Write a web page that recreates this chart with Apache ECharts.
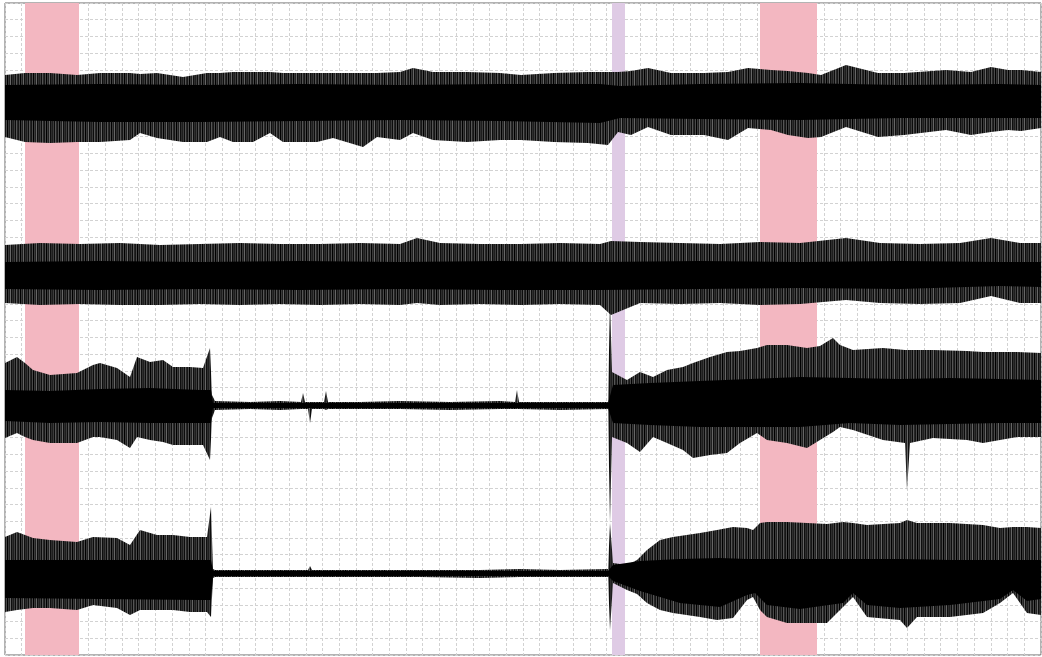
<!DOCTYPE html>
<html>
<head>
<meta charset="utf-8">
<title>EEG channels</title>
<script src="https://cdn.jsdelivr.net/npm/echarts@6/dist/echarts.min.js"></script>
<style>
html, body { margin: 0; padding: 0; background: #fff; }
#chart { width: 1042px; height: 657px; }
</style>
</head>
<body>
<div id="chart"></div>
<script>
// time in samples, amplitude in uV, each channel drawn around its own offset
var timeRange = [0, 1036];
var ampRange = [0, 652];
var channelOffset = [550, 382, 250, 82];

// marked periods [start, end, kind]
var bands = [[20, 74, 'event'], [607, 620, 'marker'], [755, 812, 'event']];

// envelopes [t, max, min] relative to the channel offset
var ch1Outer = [[0,30,-32],[20,32,-37],[45,32,-38],[72,30,-37],[95,32,-37],[125,32,-35],[135,31,-28],[152,32,-33],
  [178,28,-37],[202,32,-37],[215,32,-32],[228,33,-37],[248,33,-37],[265,33,-28],[278,32,-37],[312,32,-37],
  [328,32,-33],[358,32,-42],[372,32,-32],[395,33,-35],[408,37,-28],[428,33,-35],[462,33,-37],[495,32,-35],
  [516,30,-35],[549,32,-37],[583,33,-38],[603,33,-40],[613,33,-27],[626,34,-30],[643,37,-22],[666,32,-30],
  [699,32,-30],[723,33,-35],[743,37,-23],[766,35,-25],[783,34,-30],[803,32,-33],[816,30,-32],[841,40,-22],
  [873,32,-32],[899,32,-30],[941,35,-25],[966,33,-30],[986,38,-27],[1003,35,-25],[1016,35,-26],[1036,33,-23]];
var ch1Core = [[0,20,-15],[95,21,-17],[195,20,-17],[295,21,-16],[395,20,-15],[495,21,-16],[595,21,-18],
  [615,19,-13],[695,21,-14],[795,22,-15],[895,20,-13],[995,21,-13],[1036,20,-13]];

var ch2Outer = [[0,28,-30],[35,30,-32],[75,29,-31],[115,30,-32],[155,28,-32],[195,29,-31],[235,30,-32],[275,29,-31],
  [315,29,-32],[355,30,-31],[395,29,-32],[412,35,-30],[435,30,-32],[475,29,-31],[516,29,-32],[555,30,-31],
  [595,29,-32],[606,32,-42],[635,31,-30],[675,30,-31],[715,29,-30],[755,31,-32],[795,30,-31],[841,35,-27],
  [875,30,-30],[915,29,-31],[955,30,-30],[986,35,-23],[1015,30,-30],[1036,30,-30]];
var ch2Core = [[0,11,-16],[95,12,-17],[195,11,-16],[295,12,-17],[395,11,-16],[495,12,-17],[595,11,-17],
  [695,12,-16],[795,11,-15],[895,12,-16],[995,11,-13],[1036,11,-14]];

var ch3Outer = [[0,42,-33],[12,48,-28],[20,42,-32],[28,35,-35],[45,30,-38],[72,32,-38],[88,40,-32],[95,42,-32],
  [112,37,-35],[125,28,-43],[132,48,-32],[145,43,-35],[158,45,-37],[168,38,-40],[185,38,-40],[198,37,-40],
  [205,57,-55],[207,10,-13],[210,4,-5],[245,3,-4],[275,4,-5],[296,3,-4],[298,12,-4],[300,3,-4],[303,3,-4],
  [305,3,-18],[307,3,-4],[319,3,-4],[321,14,-5],[323,3,-4],[355,3,-4],[395,4,-4],[445,3,-5],[495,4,-4],
  [510,3,-4],[512,15,-4],[514,3,-4],[555,3,-5],[603,3,-4],[605,105,-118],[607,33,-32],[622,25,-38],
  [635,33,-47],[648,28,-32],[662,35,-38],[678,38,-45],[688,42,-53],[705,48,-50],[722,53,-48],[735,54,-38],
  [752,57,-28],[762,60,-35],[782,60,-38],[802,57,-43],[815,59,-35],[828,67,-27],[835,60,-22],[848,55,-25],
  [878,57,-35],[900,55,-38],[902,55,-85],[905,55,-38],[928,55,-33],[962,54,-35],[978,53,-38],[1012,53,-32],
  [1036,52,-32]];
var ch3Core = [[0,15,-16],[45,14,-18],[95,16,-17],[145,17,-18],[195,15,-18],[206,15,-18],[208,2,-3],[603,2,-3],
  [608,20,-18],[645,22,-20],[695,24,-22],[745,26,-22],[795,28,-22],[845,27,-18],[895,26,-20],[945,27,-19],
  [995,26,-18],[1036,25,-18]];

var ch4Outer = [[0,36,-39],[12,41,-37],[28,35,-35],[45,33,-35],[72,31,-37],[88,36,-32],[112,35,-35],[125,28,-42],
  [135,43,-37],[152,38,-37],[168,38,-37],[185,36,-39],[202,36,-39],[206,66,-44],[208,4,-5],[210,3,-4],
  [255,3,-4],[303,3,-4],[305,7,-4],[307,3,-4],[355,3,-4],[415,3,-4],[475,3,-5],[515,4,-4],[555,3,-4],
  [603,4,-4],[605,50,-57],[608,10,-10],[622,8,-17],[632,13,-21],[642,23,-30],[655,33,-37],[668,36,-40],
  [695,40,-44],[712,43,-47],[728,46,-45],[742,45,-27],[748,43,-24],[755,50,-37],[762,51,-44],[782,51,-50],
  [802,50,-50],[822,49,-50],[838,51,-34],[848,50,-24],[862,48,-44],[895,50,-47],[902,53,-55],[912,50,-44],
  [945,50,-44],[978,48,-40],[995,45,-30],[1008,46,-20],[1022,46,-40],[1036,45,-42]];
var ch4Core = [[0,13,-25],[95,13,-26],[195,13,-27],[206,13,-27],[208,2,-3],[603,2,-3],[608,8,-8],[635,12,-18],
  [675,14,-30],[715,15,-34],[742,14,-22],[750,14,-20],[762,14,-32],[795,14,-36],[838,14,-30],[848,14,-20],
  [862,14,-32],[895,14,-35],[945,13,-32],[995,13,-26],[1008,13,-17],[1022,13,-28],[1036,13,-26]];

var bandColor = { event: '#f3b7c1', marker: '#dfcbe5' };
// grey shades of the sweep strokes in the outer part of a trace
var strokeShades = ['#1e1e1e', '#3c3c3c', '#0c0c0c', '#555', '#262626', '#161616', '#4a4a4a', '#000',
  '#3a3a3a', '#202020', '#666', '#0e0e0e', '#2e2e2e'];

var strokes = document.createElement('canvas');
strokes.width = strokeShades.length;
strokes.height = 4;
var sctx = strokes.getContext('2d');
strokeShades.forEach(function (c, i) {
	sctx.fillStyle = c;
	sctx.fillRect(i, 0, 1, 4);
});

function envelope(name, rows, offset, fill, z) {
	return {
		type: 'custom',
		name: name,
		z: z,
		silent: true,
		data: [rows[0]],
		renderItem: function (params, api) {
			var upper = rows.map(function (r) { return api.coord([r[0], offset + r[1]]); });
			var lower = rows.slice().reverse().map(function (r) { return api.coord([r[0], offset + r[2]]); });
			return {
				type: 'polygon',
				shape: { points: upper.concat(lower) },
				style: { fill: fill }
			};
		}
	};
}

var chart = echarts.init(document.getElementById('chart'));

var gridLine = { show: true, lineStyle: { color: '#d2d2d2', type: [3, 2], width: 1 } };

var series = [{
	type: 'custom',
	name: 'bands',
	z: 1,
	silent: true,
	data: bands.map(function (b) { return [b[0], b[1]]; }),
	renderItem: function (params, api) {
		var a = api.coord([api.value(0), ampRange[1]]);
		var b = api.coord([api.value(1), ampRange[0]]);
		return {
			type: 'rect',
			shape: { x: a[0], y: a[1], width: b[0] - a[0], height: b[1] - a[1] },
			style: { fill: bandColor[bands[params.dataIndex][2]] }
		};
	}
}];

var outers = [ch1Outer, ch2Outer, ch3Outer, ch4Outer];
var cores = [ch1Core, ch2Core, ch3Core, ch4Core];
outers.forEach(function (rows, i) {
	series.push(envelope('ch' + (i + 1), rows, channelOffset[i], { image: strokes, repeat: 'repeat' }, 3));
});
cores.forEach(function (rows, i) {
	series.push(envelope('ch' + (i + 1) + ' core', rows, channelOffset[i], '#000', 4));
});

chart.setOption({
	animation: false,
	grid: {
		left: 5, right: 1, top: 3, bottom: 2,
		show: true,
		backgroundColor: '#fff',
		borderColor: '#666',
		borderWidth: 1
	},
	xAxis: {
		type: 'value',
		min: timeRange[0],
		max: timeRange[1],
		interval: (timeRange[1] - timeRange[0]) / 62,
		axisLine: { show: false },
		axisTick: { show: false },
		axisLabel: { show: false },
		splitLine: gridLine
	},
	yAxis: {
		type: 'value',
		min: ampRange[0],
		max: ampRange[1],
		interval: (ampRange[1] - ampRange[0]) / 39,
		axisLine: { show: false },
		axisTick: { show: false },
		axisLabel: { show: false },
		splitLine: gridLine
	},
	series: series
});
</script>
</body>
</html>
